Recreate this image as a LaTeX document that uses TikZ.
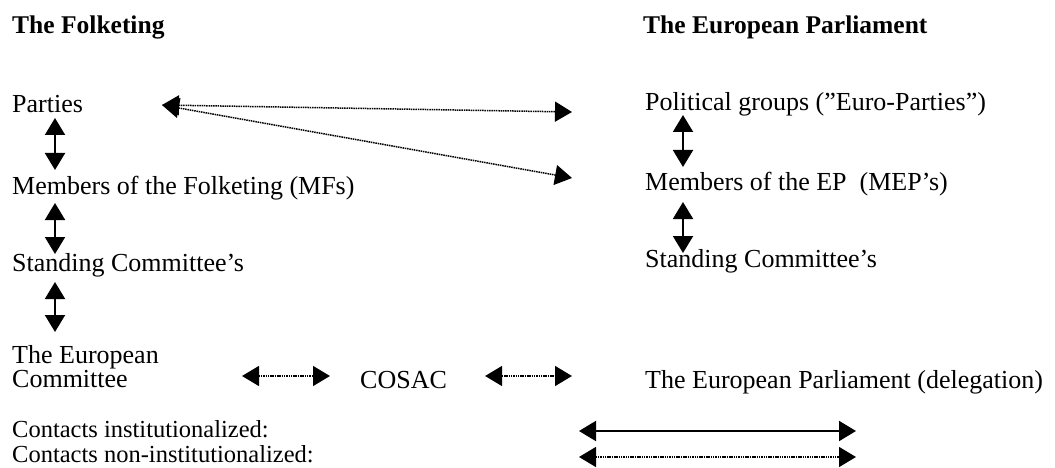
\documentclass[tikz,border=0pt]{standalone}
\usepackage{fontspec}
\setmainfont{Liberation Serif}
\usetikzlibrary{arrows.meta}

\tikzset{
  lbl/.style={anchor=base west, inner sep=0pt, font=\fontsize{26}{24}\selectfont},
  headlbl/.style={lbl, font=\fontsize{25.5}{24}\selectfont\bfseries},
  keylbl/.style={lbl, font=\fontsize{24.5}{24}\selectfont},
  link/.style={{Triangle[length=17pt,width=20pt]}-{Triangle[length=17pt,width=20pt]}, line width=2pt},
  loose/.style={link, line width=1.5pt, dash pattern=on 1.5pt off 0.8pt},
}

\begin{document}
\begin{tikzpicture}[x=1pt,y=-1pt]
  \useasboundingbox (0,0) rectangle (1055,468);
  % Headings
  \node[headlbl] (folk) at (12,34) {The Folketing};
  \node[headlbl] (ep) at (643,34) {The European Parliament};
  % Folketing side
  \node[lbl] (parties) at (12,113) {Parties};
  \node[lbl] (mf) at (12,194) {Members of the Folketing (MFs)};
  \node[lbl] (sc) at (12,271) {Standing Committee’s};
  \node[lbl, align=left] (ec) at (12,387) {The European\\Committee};
  % EP side
  \node[lbl] (pg) at (645,111) {Political groups (”Euro-Parties”)};
  \node[lbl] (mep) at (645,190) {Members of the EP~~(MEP’s)};
  \node[lbl] (epsc) at (645,267) {Standing Committee’s};
  \node[lbl] (del) at (645,388) {The European Parliament (delegation)};
  \node[lbl] (cosac) at (360,388) {COSAC};
  % Legend
  \node[keylbl] (inst) at (12,437) {Contacts institutionalized:};
  \node[keylbl] (noninst) at (12,462) {Contacts non-institutionalized:};
  \coordinate (ia) at (579,431);
  \coordinate (ib) at (856,431);
  \coordinate (na) at (579,457);
  \coordinate (nb) at (856,457);
  % Vertical links
  \draw[link] ([xshift=43pt,yshift=-5pt]parties.base west) -- ([xshift=43pt,yshift=24pt]mf.base west);
  \draw[link] ([xshift=43pt,yshift=-9pt]mf.base west) -- ([xshift=43pt,yshift=17pt]sc.base west);
  \draw[link] ([xshift=43pt,yshift=-11pt]sc.base west) -- ([xshift=43pt,yshift=55pt]ec.base west);
  \draw[link] ([xshift=38pt,yshift=-4pt]pg.base west) -- ([xshift=38pt,yshift=23pt]mep.base west);
  \draw[link] ([xshift=38pt,yshift=-12pt]mep.base west) -- ([xshift=38pt,yshift=14pt]epsc.base west);
  % Cross links
  \draw[loose] ([xshift=150pt,yshift=8pt]parties.base west) -- ([xshift=-73pt,yshift=-1pt]pg.base west);
  \draw[loose] ([xshift=150pt,yshift=8pt]parties.base west) -- ([xshift=-73pt,yshift=12pt]mep.base west);
  \draw[loose] ([xshift=-118pt,yshift=12pt]cosac.base west) -- ([xshift=-30pt,yshift=12pt]cosac.base west);
  \draw[loose] ([xshift=38pt,yshift=12pt]cosac.base east) -- ([xshift=-73pt,yshift=12pt]del.base west);
  % Legend links
  \draw[link] (ia) -- (ib);
  \draw[loose] (na) -- (nb);
\end{tikzpicture}
\end{document}
